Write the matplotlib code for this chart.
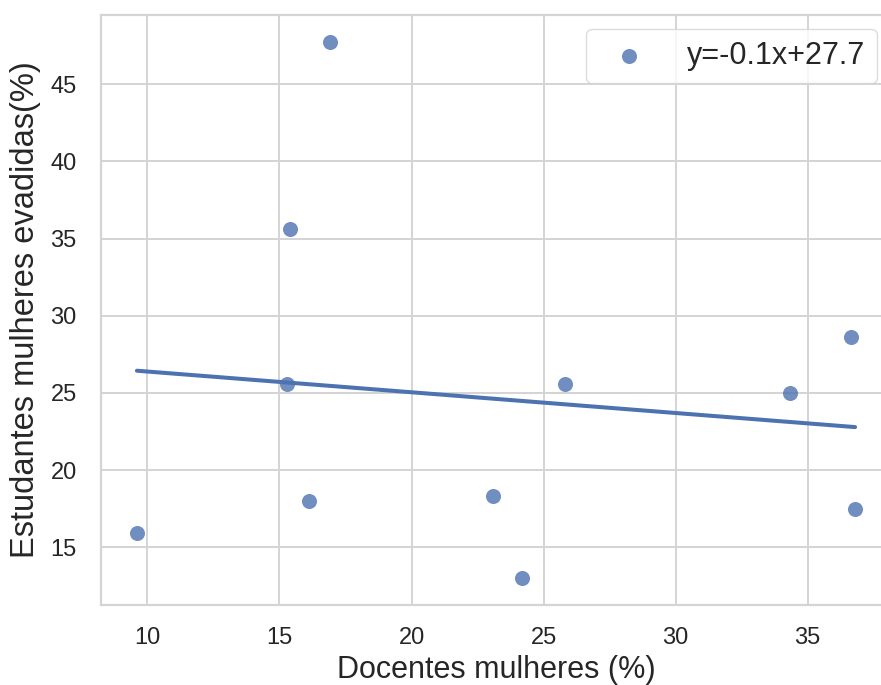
import numpy as np
import matplotlib
matplotlib.use("Agg")
import matplotlib.pyplot as plt
import seaborn as sns

# valores
docentes_mulheres = [9.6, 15.3, 15.4, 16.1, 16.9, 23.1, 24.2, 25.8, 34.35, 36.65, 36.8]
estudantes_evadidas = [15.9, 25.6, 35.6, 18.0, 47.75, 18.3, 13.0, 25.6, 25.0, 28.65, 17.5]
rotulo = "y=-0.1x+27.7"

sns.set_theme(style="whitegrid")
plt.rcParams['font.family'] = ['Liberation Sans', 'DejaVu Sans']
plt.rcParams['grid.color'] = '#d4d4d4'
plt.rcParams['grid.linewidth'] = 1.4
plt.rcParams['axes.edgecolor'] = '#d4d4d4'
plt.rcParams['axes.linewidth'] = 1.6

fig = plt.figure(figsize=(8.81, 6.85), dpi=100)
ax = fig.add_axes([101 / 881, 80 / 685, 790 / 881, 590 / 685])

sns.regplot(x=np.array(docentes_mulheres), y=np.array(estudantes_evadidas), ax=ax, ci=None,
            color='#4C72B0', label=rotulo,
            scatter_kws={'s': 117, 'alpha': 0.8, 'linewidths': 0},
            line_kws={'lw': 2.9})

ax.set_xlabel('Docentes mulheres (%)', fontsize=22, color='#262626', labelpad=4)
ax.set_ylabel('Estudantes mulheres evadidas(%)', fontsize=23.5, color='#262626', labelpad=7)
ax.tick_params(axis='x', labelsize=17, pad=10, colors='#262626')
ax.tick_params(axis='y', labelsize=17, pad=11.5, colors='#262626')
ax.set_xticks([10, 15, 20, 25, 30, 35])
ax.set_yticks([15, 20, 25, 30, 35, 40, 45])

leg = ax.legend(loc='upper right', fontsize=22, frameon=True, borderaxespad=0.45,
                borderpad=0.4, handletextpad=0.9)
leg.get_frame().set_edgecolor('#d4d4d4')
for t in leg.get_texts():
    t.set_color('#262626')

fig.savefig('out.png', dpi=100)
